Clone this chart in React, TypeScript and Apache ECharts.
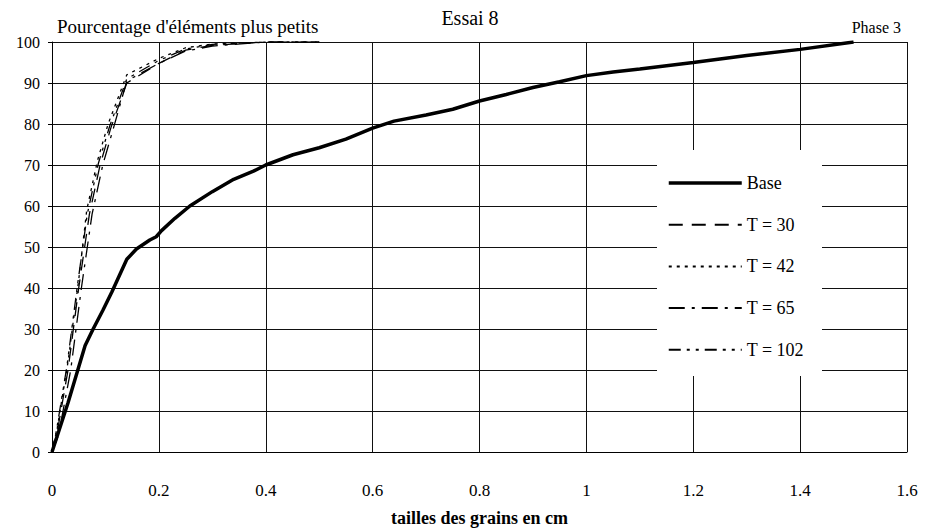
import React, { useEffect, useRef } from "react";
import * as echarts from "echarts";

const xTicks = [0, 0.2, 0.4, 0.6, 0.8, 1, 1.2, 1.4, 1.6];
const baseData: [number, number][] = [
  [0, 0], [0.03, 12], [0.062, 26], [0.077, 30], [0.095, 34.5], [0.112, 39], [0.14, 47],
  [0.158, 49.5], [0.183, 51.7], [0.195, 52.5], [0.205, 54], [0.23, 57], [0.258, 60],
  [0.3, 63.5], [0.34, 66.5], [0.377, 68.5], [0.4, 70], [0.451, 72.5], [0.5, 74.2],
  [0.55, 76.3], [0.6, 79], [0.64, 80.7], [0.7, 82.2], [0.75, 83.6], [0.8, 85.6],
  [0.85, 87.2], [0.9, 88.9], [0.95, 90.3], [1.0, 91.8], [1.05, 92.7], [1.1, 93.4],
  [1.2, 95], [1.3, 96.7], [1.4, 98.2], [1.5, 100],
];
const t30Data: [number, number][] = [
  [0, 0], [0.01, 5], [0.03, 20], [0.05, 40], [0.07, 58], [0.09, 70], [0.11, 79],
  [0.14, 90], [0.2, 94.8], [0.25, 98], [0.3, 99.2], [0.4, 100], [0.5, 100],
];
const t42Data: [number, number][] = [
  [0, 0], [0.01, 6], [0.03, 22], [0.05, 42], [0.065, 59], [0.085, 71], [0.105, 80],
  [0.14, 92], [0.2, 96], [0.25, 98.6], [0.3, 99.5], [0.4, 100], [0.5, 100],
];
const t65Data: [number, number][] = [
  [0, 0], [0.012, 4], [0.035, 20], [0.055, 40], [0.075, 58], [0.095, 70], [0.115, 79],
  [0.14, 90.5], [0.2, 94.8], [0.25, 97.8], [0.3, 99], [0.4, 100], [0.5, 100],
];
const t102Data: [number, number][] = [
  [0, 0], [0.008, 5], [0.028, 21], [0.048, 41], [0.066, 58], [0.087, 70.5], [0.108, 79.5],
  [0.14, 91], [0.2, 95.5], [0.25, 98.3], [0.3, 99.4], [0.4, 100], [0.5, 100],
];

const FONT = "'Liberation Serif', 'Times New Roman', serif";

export default function App() {
  const ref = useRef<HTMLDivElement>(null);
  useEffect(() => {
    if (!ref.current) return;
    const chart = echarts.init(ref.current, null, { renderer: "svg" });
    const thin = (name: string, data: [number, number][], dash: number[] | string) => ({
      name,
      type: "line",
      data,
      symbol: "none",
      z: 3,
      itemStyle: { color: "#000" },
      lineStyle: { color: "#000", width: 1.3, type: dash },
    });
    chart.setOption({
      animation: false,
      backgroundColor: "#fff",
      color: ["#000"],
      textStyle: { fontFamily: FONT, color: "#000" },
      title: [
        { text: "Essai 8", left: 465, top: 3, textAlign: "center", textStyle: { fontFamily: FONT, fontSize: 20, fontWeight: "normal", color: "#000" } },
        { text: "Pourcentage d'éléments plus petits", left: 52, top: 12, textStyle: { fontFamily: FONT, fontSize: 19, fontWeight: "normal", color: "#000" } },
        { text: "Phase 3", right: 22, top: 14, textStyle: { fontFamily: FONT, fontSize: 16, fontWeight: "normal", color: "#000" } },
      ],
      grid: { left: 52, right: 21, top: 42, bottom: 78, outerBoundsMode: "none", containLabel: false },
      xAxis: {
        type: "value",
        min: 0,
        max: 1.6,
        interval: 0.2,
        name: "tailles des grains en cm",
        nameLocation: "middle",
        nameGap: 57,
        nameTextStyle: { fontFamily: FONT, fontSize: 18, fontWeight: "bold", color: "#000" },
        axisLine: { lineStyle: { color: "#000", width: 1 } },
        axisTick: { show: false },
        axisLabel: { fontFamily: FONT, fontSize: 17, color: "#000", margin: 30, formatter: (v: number) => (xTicks.includes(Math.round(v * 10) / 10) ? String(Math.round(v * 10) / 10) : "") },
        splitLine: { show: true, lineStyle: { color: "#111", width: 1 } },
      },
      yAxis: {
        type: "value",
        min: 0,
        max: 100,
        interval: 10,
        axisLine: { show: true, lineStyle: { color: "#000", width: 1 } },
        axisTick: { show: true, length: 4, lineStyle: { color: "#000" } },
        axisLabel: { fontFamily: FONT, fontSize: 16, color: "#000", margin: 12 },
        splitLine: { show: true, lineStyle: { color: "#111", width: 1 } },
      },
      legend: {
        orient: "vertical",
        left: 667,
        top: 174,
        padding: 0,
        z: 20,
        itemWidth: 73,
        itemHeight: 14,
        itemGap: 23.7,
        itemStyle: { opacity: 0 },
        textStyle: { fontFamily: FONT, fontSize: 18, color: "#000" },
        data: [
          { name: "Base", lineStyle: { width: 3.5 } },
          "T = 30",
          "T = 42",
          "T = 65",
          "T = 102",
        ],
      },
      graphic: [
        { type: "rect", z: 10, shape: { x: 657, y: 150, width: 165, height: 226 }, style: { fill: "#fff" } },
      ],
      series: [
        { name: "Base", type: "line", data: baseData, symbol: "none", z: 4, itemStyle: { color: "#000" }, lineStyle: { color: "#000", width: 3.5 } },
        thin("T = 30", t30Data, [14, 9]),
        thin("T = 42", t42Data, [3, 5]),
        thin("T = 65", t65Data, [16, 7, 3, 7]),
        thin("T = 102", t102Data, [12, 6, 3, 6, 3, 6]),
      ],
    });
    return () => chart.dispose();
  }, []);
  return <div ref={ref} style={{ width: 928, height: 530, position: "absolute", left: 0, top: 0 }} />;
}
